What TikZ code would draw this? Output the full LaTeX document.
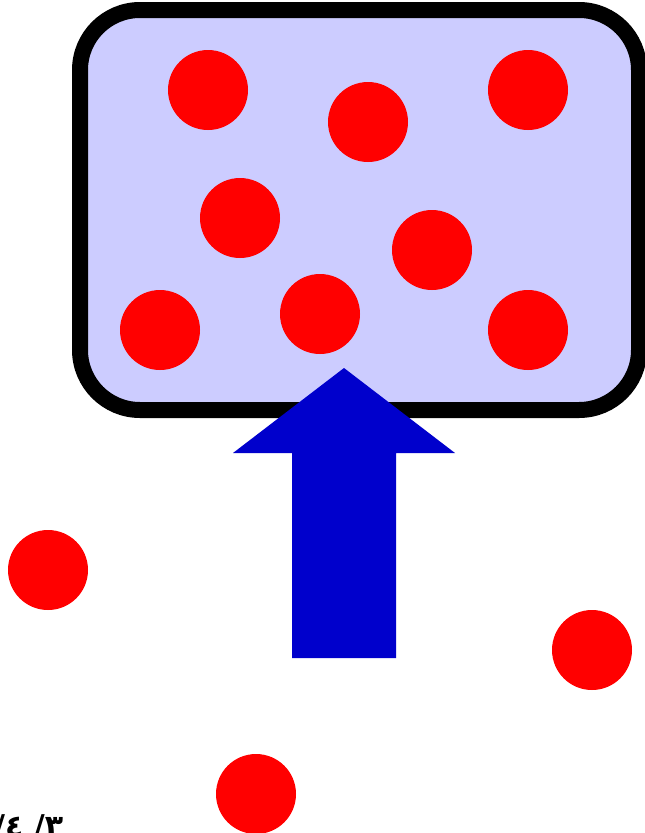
\documentclass[tikz,border=0pt]{standalone}
\usepackage{fontspec}
\TeXXeTstate=1
\newfontfamily\arabicfont[Script=Arabic]{DejaVu Sans}
\definecolor{boxfill}{HTML}{CCCCFF}
\definecolor{arrowblue}{HTML}{0000CC}
\tikzset{particle/.style={fill=red,draw=none}}
\begin{document}
\begin{tikzpicture}[x=1pt,y=-1pt]
\useasboundingbox (0,0) rectangle (645,833);
\draw[line width=16pt,fill=boxfill,rounded corners=60pt] (80,10) rectangle (639,410);
\foreach \x/\y in {208/90,368/122,528/90,240/218,432/250,160/330,320/314,528/330,48/570,592/650,256/794}
  \fill[particle] (\x,\y) circle (40pt);
\fill[arrowblue] (344,368) -- (455,453) -- (396,453) -- (396,658) -- (292,658) -- (292,453) -- (233,453) -- cycle;
\node[anchor=base west,inner sep=0pt,font=\arabicfont\bfseries\fontsize{30}{30}\selectfont] (pg) at (-6,836) {\beginR ٣/ ٤/\endR};
\end{tikzpicture}
\end{document}
